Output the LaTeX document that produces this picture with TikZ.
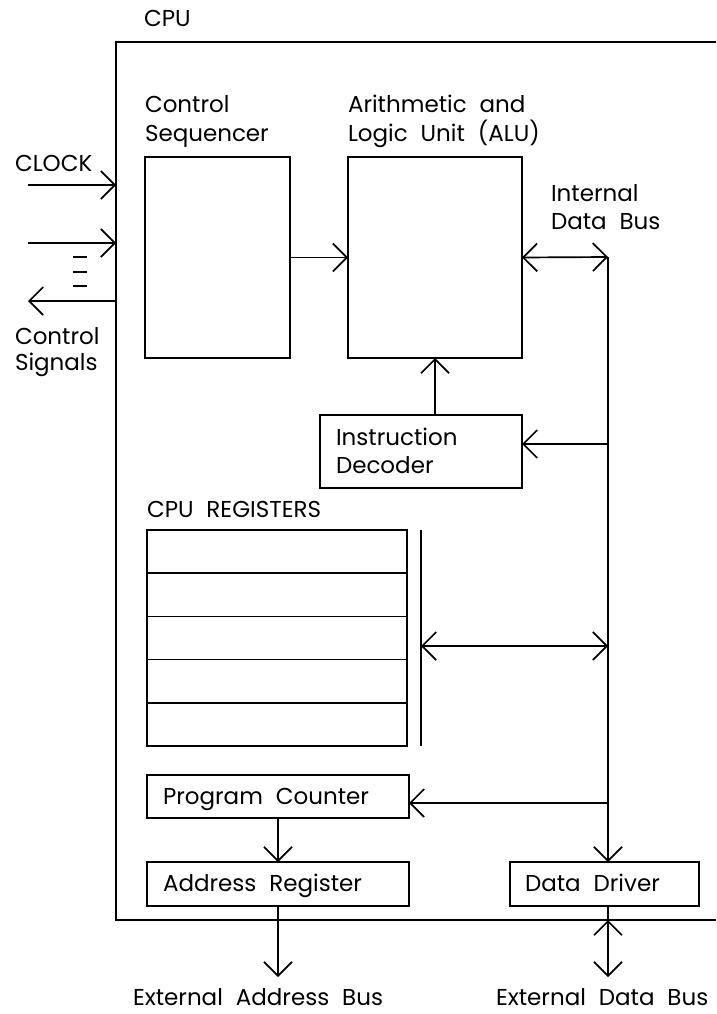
\documentclass[tikz,border=0pt]{standalone}
\usepackage{fontspec}
\setmainfont[WordSpace=2.1]{Poppins}
\usetikzlibrary{arrows.meta,calc}
\tikzset{
  box/.style={draw, line width=1.7pt, inner sep=0pt, outer sep=0pt},
  lbl/.style={anchor=base west, inner sep=0pt, outer sep=0pt, font=\fontsize{23}{28}\selectfont},
  ln/.style={line width=1.7pt},
  arr/.style={line width=1.7pt, -{Straight Barb[length=14pt,width=28pt]}},
  darr/.style={line width=1.7pt, {Straight Barb[length=14pt,width=28pt]}-{Straight Barb[length=14pt,width=28pt]}}
}
\begin{document}
\begin{tikzpicture}[x=1pt,y=-1pt]
\useasboundingbox (0,0) rectangle (716,1014);
% outer CPU box (right side beyond the frame)
\draw[ln] (716,42) -- (116,42) -- (116,920) -- (716,920);
\node[lbl] (tcpu) at (144,27) {CPU};
% boxes
\node[box, minimum width=145pt, minimum height=201pt] (cs) at (217.5,257.5) {};
\node[box, minimum width=174pt, minimum height=201pt] (alu) at (435,257.5) {};
\node[box, minimum width=202pt, minimum height=73pt] (id) at (421,451.5) {};
\node[box, minimum width=260pt, minimum height=216pt] (regs) at (277,638) {};
\node[box, minimum width=262pt, minimum height=43pt] (pc) at (278,796.5) {};
\node[box, minimum width=262pt, minimum height=44pt] (ar) at (278,884) {};
\node[box, minimum width=189pt, minimum height=44pt] (dd) at (604.5,884) {};
% register rows
\foreach \k in {1,2,3,4}
  \draw[ln] ($(regs.north west)!\k/5!(regs.south west)$) -- ($(regs.north east)!\k/5!(regs.south east)$);
% labels
\node[lbl] (tcs1) at (145,113) {Control};
\node[lbl] (tcs2) at (145,142) {Sequencer};
\node[lbl] (talu1) at (348,113) {Arithmetic and};
\node[lbl] (talu2) at (348,142) {Logic Unit (ALU)};
\node[lbl] (tidb1) at (551,201) {Internal};
\node[lbl] (tidb2) at (551,229) {Data Bus};
\node[lbl] (tid1) at (336,445) {Instruction};
\node[lbl] (tid2) at (336,473) {Decoder};
\node[lbl] (treg) at (147,517) {CPU REGISTERS};
\node[lbl] (tpc) at (163,804) {Program Counter};
\node[lbl] (tar) at (163,891) {Address Register};
\node[lbl] (tdd) at (525,891) {Data Driver};
\node[lbl] (tclk) at (15,171) {CLOCK};
\node[lbl] (tcsg1) at (15,344) {Control};
\node[lbl] (tcsg2) at (15,370) {Signals};
\node[lbl, text depth=0pt] (teab) at (133,1005) {External Address Bus};
\node[lbl, text depth=0pt] (tedb) at (496,1005) {External Data Bus};
% coordinates
\coordinate (bustop) at (608,257);
\coordinate (busid) at (608,444);
\coordinate (busreg) at (608,646);
\coordinate (buspc) at (608,803);
\coordinate (busdd) at (608,862);
\coordinate (bartop) at (421,530);
\coordinate (barbot) at (421,746);
\coordinate (barmid) at (421,646);
\coordinate (ddbot) at (608,906);
\coordinate (ddedge) at (608,920);
\coordinate (ddend) at (608,977);
\coordinate (arend) at (278,977);
\coordinate (in1s) at (28,185);
\coordinate (in1e) at (116,185);
\coordinate (in2s) at (28,243);
\coordinate (in2e) at (116,243);
\coordinate (outs) at (116,301);
\coordinate (oute) at (28,301);
% connectors
\draw[arr] (cs.east) -- (alu.west);
\draw[darr] (alu.east) -- (bustop);
\draw[ln] (bustop) -- (busdd);
\draw[arr] (buspc) -- (busdd);
\draw[arr] (busid) -- (busid -| id.east);
\draw[arr] (alu.south |- id.north) -- (alu.south);
\draw[ln] (bartop) -- (barbot);
\draw[darr] (barmid) -- (busreg);
\draw[arr] (buspc) -- (buspc -| pc.east);
\draw[arr] (pc.south) -- (ar.north);
\draw[arr] (ar.south) -- (arend);
\draw[ln] (ddbot) -- (ddedge);
\draw[darr] (ddedge) -- (ddend);
\draw[arr] (in1s) -- (in1e);
\draw[arr] (in2s) -- (in2e);
\draw[arr] (outs) -- (oute);
\foreach \y [count=\i] in {257,272,286}
  \draw[ln] (73,\y) coordinate (dsh\i a) -- (87,\y) coordinate (dsh\i b);
\end{tikzpicture}
\end{document}
